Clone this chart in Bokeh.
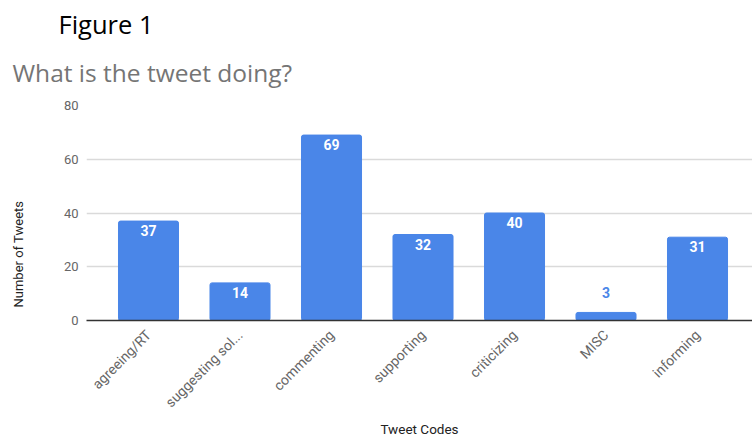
import math
from bokeh.plotting import figure
from bokeh.models import Range1d, FixedTicker, Title, ColumnDataSource
from bokeh.core.properties import value
from bokeh.embed import file_html
from bokeh.resources import INLINE

categories = ["agreeing/RT", "suggesting sol...", "commenting", "supporting",
              "criticizing", "MISC", "informing"]
counts = [37, 14, 69, 32, 40, 3, 31]
y_ticks = [0, 20, 40, 60, 80]

BLUE = "#4a86e8"
xs = list(range(len(categories)))
inside = [c >= 8 for c in counts]
src = ColumnDataSource(dict(
    x=xs, top=counts, txt=[str(c) for c in counts],
    color=["white" if i else BLUE for i in inside],
    yoff=[4 if i else -14 for i in inside],
    base=["top" if i else "bottom" for i in inside],
))

p = figure(width=752, height=436,
           x_range=Range1d(-0.6776, 6.601), y_range=Range1d(0, 80),
           output_backend="svg", toolbar_location=None,
           min_border_left=86, min_border_right=0,
           min_border_top=105, min_border_bottom=115,
           title="Figure 1")
p.outline_line_color = None
p.background_fill_color = "white"

p.title.align = "left"
p.title.offset = -28
p.title.standoff = 0
p.title.text_font = "Open Sans"
p.title.text_font_size = "25.5px"
p.title.text_font_style = "normal"
p.title.text_color = "#000000"

p.vbar(x="x", top="top", width=0.656, source=src, color=BLUE,
       border_radius=2)
p.text(x="x", y="top", text="txt", source=src, text_color="color",
       y_offset="yoff", text_align="center", text_baseline="base",
       text_font=value("Roboto"), text_font_size="14px",
       text_font_style="bold")

# axes
p.xgrid.visible = False
p.ygrid.grid_line_color = "#dadada"
p.ygrid.grid_line_width = 1.5
p.ygrid.ticker = FixedTicker(ticks=y_ticks)

ya = p.yaxis[0]
ya.ticker = FixedTicker(ticks=y_ticks)
ya.axis_line_color = None
ya.major_tick_line_color = None
ya.minor_tick_line_color = None
ya.major_tick_out = 0
ya.major_tick_in = 0
ya.major_label_standoff = 8
ya.major_label_text_font = "Roboto"
ya.major_label_text_font_size = "13px"
ya.major_label_text_color = "#666666"

xa = p.xaxis[0]
xa.ticker = FixedTicker(ticks=xs)
xa.major_label_overrides = {i: c for i, c in zip(xs, categories)}
xa.major_label_orientation = math.pi / 4
xa.axis_line_color = "#333333"
xa.axis_line_width = 1.5
xa.major_tick_line_color = None
xa.minor_tick_line_color = None
xa.major_tick_out = 0
xa.major_tick_in = 0
xa.major_label_standoff = 12
xa.major_label_text_font = "Roboto"
xa.major_label_text_font_size = "14px"
xa.major_label_text_color = "#666666"


def spacer(gap):
    return Title(text=" ", text_font_size="1px", standoff=gap)


# above: spacer, chart title, spacer, then p.title ("Figure 1") outermost
p.add_layout(spacer(14), "above")
p.add_layout(Title(text="What is the tweet doing?", align="left", offset=-74,
                   standoff=0, text_font="Open Sans", text_font_size="24.5px",
                   text_font_style="normal", text_color="#757575"), "above")
p.add_layout(spacer(10), "above")

# below: axis title
p.add_layout(Title(text="Tweet Codes", align="center", standoff=0,
                   text_font="Roboto", text_font_size="13.5px",
                   text_font_style="normal", text_color="#222222"), "below")

# left: spacer, then axis title
p.add_layout(spacer(32), "left")
p.add_layout(Title(text="Number of Tweets", align="left", offset=13,
                   standoff=0,
                   text_font="Roboto", text_font_size="13px",
                   text_font_style="normal", text_color="#222222"), "left")

open("out.html", "w").write(file_html(p, INLINE))
